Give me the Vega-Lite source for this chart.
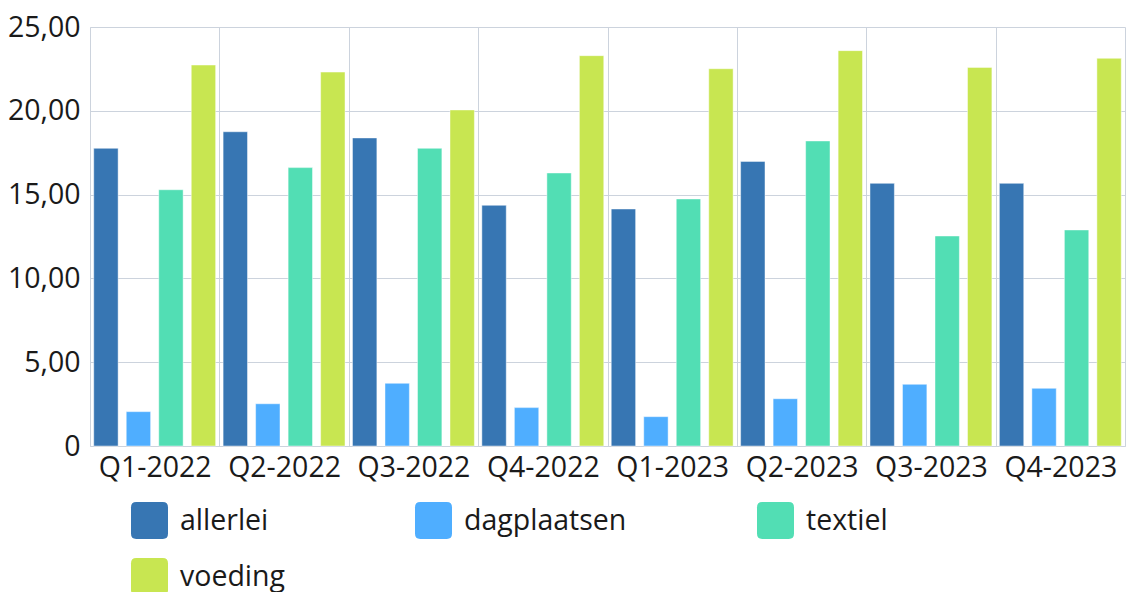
{
  "$schema": "https://vega.github.io/schema/vega-lite/v6.json",
  "autosize": {"type": "none"},
  "padding": {"left": 90, "top": 27, "right": 3, "bottom": 146},
  "width": 1035,
  "height": 419,
  "config": {
    "view": {"stroke": null},
    "font": "Open Sans",
    "axis": {"labelFont": "Open Sans", "labelColor": "#1a1a1a", "labelFontSize": 28.5, "gridColor": "#ccd3dd", "gridOpacity": 1, "domainColor": "#ccd3dd", "ticks": false}
  },
  "data": {
    "values": [
      {"kwartaal": "Q1-2022", "categorie": "allerlei", "waarde": 17.76},
      {"kwartaal": "Q1-2022", "categorie": "dagplaatsen", "waarde": 2.05},
      {"kwartaal": "Q1-2022", "categorie": "textiel", "waarde": 15.29},
      {"kwartaal": "Q1-2022", "categorie": "voeding", "waarde": 22.73},
      {"kwartaal": "Q2-2022", "categorie": "allerlei", "waarde": 18.75},
      {"kwartaal": "Q2-2022", "categorie": "dagplaatsen", "waarde": 2.52},
      {"kwartaal": "Q2-2022", "categorie": "textiel", "waarde": 16.61},
      {"kwartaal": "Q2-2022", "categorie": "voeding", "waarde": 22.31},
      {"kwartaal": "Q3-2022", "categorie": "allerlei", "waarde": 18.38},
      {"kwartaal": "Q3-2022", "categorie": "dagplaatsen", "waarde": 3.74},
      {"kwartaal": "Q3-2022", "categorie": "textiel", "waarde": 17.76},
      {"kwartaal": "Q3-2022", "categorie": "voeding", "waarde": 20.05},
      {"kwartaal": "Q4-2022", "categorie": "allerlei", "waarde": 14.36},
      {"kwartaal": "Q4-2022", "categorie": "dagplaatsen", "waarde": 2.29},
      {"kwartaal": "Q4-2022", "categorie": "textiel", "waarde": 16.29},
      {"kwartaal": "Q4-2022", "categorie": "voeding", "waarde": 23.29},
      {"kwartaal": "Q1-2023", "categorie": "allerlei", "waarde": 14.14},
      {"kwartaal": "Q1-2023", "categorie": "dagplaatsen", "waarde": 1.75},
      {"kwartaal": "Q1-2023", "categorie": "textiel", "waarde": 14.74},
      {"kwartaal": "Q1-2023", "categorie": "voeding", "waarde": 22.51},
      {"kwartaal": "Q2-2023", "categorie": "allerlei", "waarde": 16.98},
      {"kwartaal": "Q2-2023", "categorie": "dagplaatsen", "waarde": 2.82},
      {"kwartaal": "Q2-2023", "categorie": "textiel", "waarde": 18.2},
      {"kwartaal": "Q2-2023", "categorie": "voeding", "waarde": 23.59},
      {"kwartaal": "Q3-2023", "categorie": "allerlei", "waarde": 15.67},
      {"kwartaal": "Q3-2023", "categorie": "dagplaatsen", "waarde": 3.68},
      {"kwartaal": "Q3-2023", "categorie": "textiel", "waarde": 12.53},
      {"kwartaal": "Q3-2023", "categorie": "voeding", "waarde": 22.59},
      {"kwartaal": "Q4-2023", "categorie": "allerlei", "waarde": 15.67},
      {"kwartaal": "Q4-2023", "categorie": "dagplaatsen", "waarde": 3.44},
      {"kwartaal": "Q4-2023", "categorie": "textiel", "waarde": 12.89},
      {"kwartaal": "Q4-2023", "categorie": "voeding", "waarde": 23.13}
    ]
  },
  "mark": {"type": "bar", "stroke": "#ffffff", "strokeOpacity": 0.45, "strokeWidth": 1},
  "encoding": {
    "x": {
      "field": "kwartaal", "type": "nominal", "sort": null,
      "scale": {"paddingInner": 0, "paddingOuter": 0},
      "axis": {"title": null, "labelAngle": 0, "grid": true, "tickBand": "extent", "domain": true, "labelPadding": 7}
    },
    "xOffset": {
      "field": "categorie", "type": "nominal",
      "scale": {"paddingInner": 0.25, "paddingOuter": 0.115}
    },
    "y": {
      "field": "waarde", "type": "quantitative",
      "scale": {"domain": [0, 25], "nice": false},
      "axis": {"title": null, "values": [0, 5, 10, 15, 20, 25], "labelPadding": 10, "domain": true,
        "labelExpr": "datum.value === 0 ? '0' : replace(format(datum.value, '.2f'), '.', ',')"}
    },
    "color": {
      "field": "categorie", "type": "nominal",
      "scale": {"domain": ["allerlei", "dagplaatsen", "textiel", "voeding"], "range": ["#3776b3", "#4faeff", "#52deb4", "#c8e651"]},
      "legend": {
        "title": null, "orient": "none", "legendX": 41, "legendY": 475, "direction": "horizontal", "columns": 3,
        "padding": 0, "columnPadding": 130, "rowPadding": 19,
        "symbolType": "M-1,-0.72Q-1,-1,-0.72,-1L0.72,-1Q1,-1,1,-0.72L1,0.72Q1,1,0.72,1L-0.72,1Q-1,1,-1,0.72Z",
        "symbolSize": 1369, "symbolStrokeWidth": 0, "symbolOpacity": 1,
        "labelFont": "Open Sans", "labelFontSize": 28.5, "labelColor": "#1a1a1a", "labelOffset": 12, "labelLimit": 400
      }
    }
  }
}
